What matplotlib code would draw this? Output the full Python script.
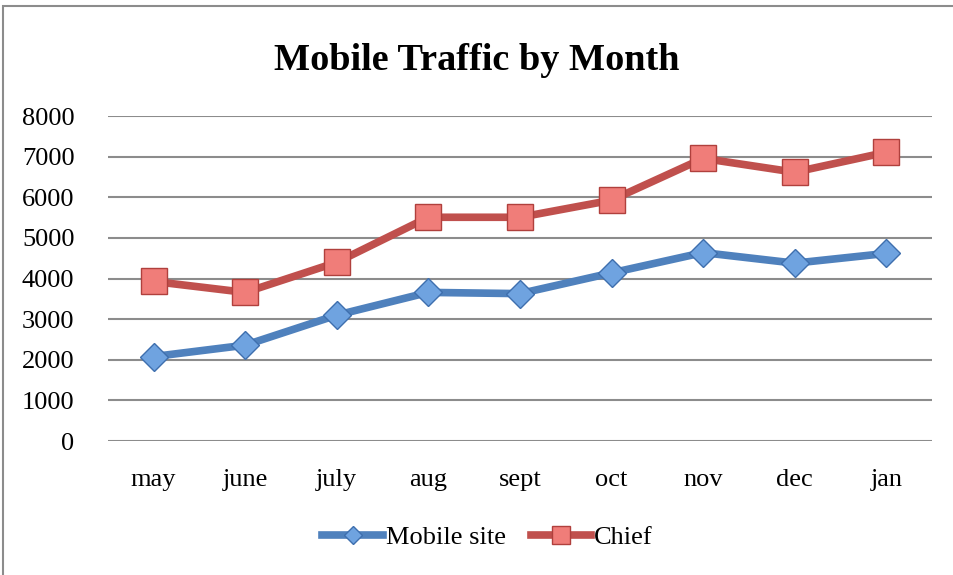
import matplotlib.pyplot as plt
from matplotlib.patches import Rectangle

# Data
months = ['may', 'june', 'july', 'aug', 'sept', 'oct', 'nov', 'dec', 'jan']
mobile_site = [2080, 2360, 3100, 3660, 3630, 4140, 4640, 4380, 4620]
chief = [3930, 3660, 4400, 5510, 5510, 5930, 6960, 6620, 7110]

plt.rcParams['font.family'] = ['Liberation Serif', 'DejaVu Serif']

fig = plt.figure(figsize=(9.54, 5.75), dpi=100)
ax = fig.add_axes([0.113, 0.233, 0.864, 0.565])

x = range(len(months))
ax.plot(x, mobile_site, color='#4F81BD', linewidth=5.5, marker='D', markersize=14,
        markerfacecolor='#6FA3E0', markeredgecolor='#3E6FAE', markeredgewidth=1,
        label='Mobile site', zorder=3)
ax.plot(x, chief, color='#C0504D', linewidth=5.5, marker='s', markersize=19,
        markerfacecolor='#F07D79', markeredgecolor='#B0403D', markeredgewidth=1,
        label='Chief', zorder=3)

ax.set_xlim(-0.5, len(months) - 0.5)
ax.set_ylim(0, 8000)
ax.set_yticks(range(0, 8001, 1000))
ax.set_xticks(list(x))
ax.set_xticklabels(months)
ax.tick_params(axis='x', length=0, labelsize=19, pad=20)
ax.tick_params(axis='y', length=0, labelsize=19, pad=24)
ax.grid(axis='y', color='#8C8C8C', linewidth=1.5)
ax.set_axisbelow(True)
for s in ax.spines.values():
    s.set_visible(False)

fig.suptitle('Mobile Traffic by Month', fontsize=27.5, fontweight='bold', y=0.925)

fig.legend(loc='center', bbox_to_anchor=(0.511, 0.066), ncol=2, frameon=False,
           fontsize=19, handlelength=2.3, columnspacing=0.95, handletextpad=0.1,
           markerscale=0.65)

# chart frame
fig.patches.append(Rectangle((3 / 954, -0.1), 1.2, (575 - 6) / 575 + 0.1,
                             transform=fig.transFigure, fill=False,
                             edgecolor='#8C8C8C', linewidth=1.5))

fig.savefig('out.png', dpi=100)
